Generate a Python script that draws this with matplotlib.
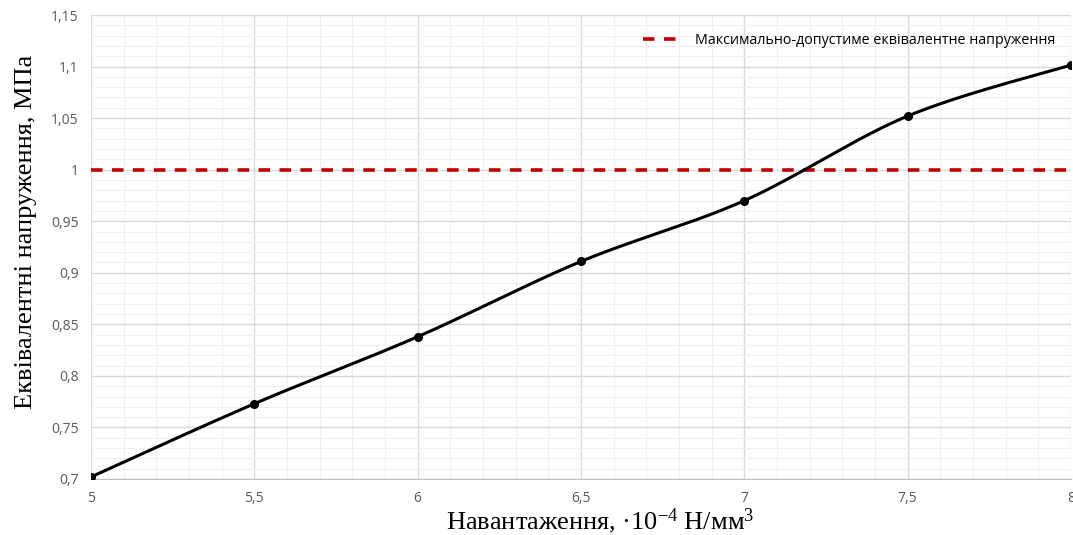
import numpy as np
import matplotlib
matplotlib.use('Agg')
from matplotlib import pyplot as plt
from matplotlib.ticker import MultipleLocator, FuncFormatter

plt.rcParams['mathtext.fontset'] = 'custom'
plt.rcParams['mathtext.rm'] = 'Liberation Serif'
plt.rcParams['mathtext.it'] = 'Liberation Serif:italic'

# data
load = [5, 5.5, 6, 6.5, 7, 7.5, 8]
stress = [0.702, 0.773, 0.838, 0.911, 0.970, 1.052, 1.1015]
limit = 1.0
limit_label = 'Максимально-допустиме еквівалентне напруження'


def smooth(xs, ys, n=40):
    # Catmull-Rom style bezier, like a spreadsheet "smoothed line"
    pts = np.column_stack([xs, ys]).astype(float)
    out = []
    for i in range(len(pts) - 1):
        p0 = pts[i - 1] if i > 0 else pts[i]
        p1 = pts[i]
        p2 = pts[i + 1]
        p3 = pts[i + 2] if i + 2 < len(pts) else pts[i + 1]
        c1 = p1 + (p2 - p0) / 6
        c2 = p2 - (p3 - p1) / 6
        t = np.linspace(0, 1, n)[:, None]
        seg = ((1 - t) ** 3) * p1 + 3 * ((1 - t) ** 2) * t * c1 + 3 * (1 - t) * t ** 2 * c2 + t ** 3 * p2
        out.append(seg if i == 0 else seg[1:])
    seg = np.vstack(out)
    return seg[:, 0], seg[:, 1]


fig = plt.figure(figsize=(10.73, 5.35), dpi=100)
ax = fig.add_axes([91 / 1073, 1 - 479 / 535, 980 / 1073, 464 / 535])

sx, sy = smooth(load, stress)
ax.plot(sx, sy, color='black', lw=2.2, zorder=3)
ax.plot(load, stress, 'o', color='black', ms=5.5, zorder=4)
ax.axhline(limit, color='#c00000', lw=2.6, ls=(0, (3.2, 2.6)), label=limit_label, zorder=2)

ax.set_xlim(5, 8)
ax.set_ylim(0.7, 1.15)
ax.xaxis.set_major_locator(MultipleLocator(0.5))
ax.xaxis.set_minor_locator(MultipleLocator(0.1))
ax.yaxis.set_major_locator(MultipleLocator(0.05))
ax.yaxis.set_minor_locator(MultipleLocator(0.01))
fmt = FuncFormatter(lambda v, p: ('%g' % round(v, 4)).replace('.', ','))
ax.xaxis.set_major_formatter(fmt)
ax.yaxis.set_major_formatter(fmt)

ax.grid(which='major', color='#d9d9d9', lw=1)
ax.grid(which='minor', color='#f0f0f0', lw=0.8)
ax.set_axisbelow(True)
for s in ax.spines.values():
    s.set_visible(False)
ax.spines['bottom'].set_visible(True)
ax.spines['bottom'].set_color('#bfbfbf')
ax.tick_params(which='both', length=0, labelsize=10, colors='#595959', pad=9)
for lab in ax.get_xticklabels() + ax.get_yticklabels():
    lab.set_family(['Open Sans', 'DejaVu Sans'])

ax.set_xlabel('Навантаження, ·10$^{-4}$ Н/мм$^{3}$', family=['Liberation Serif', 'DejaVu Serif'],
              fontsize=19)
ax.set_ylabel('Еквівалентні напруження, МПа', family=['Liberation Serif', 'DejaVu Serif'],
              fontsize=19)
ax.xaxis.set_label_coords(0.52, -0.058)
ax.yaxis.set_label_coords(-0.055, 0.532)

leg = ax.legend(loc='upper right', frameon=False, prop={'family': 'Open Sans', 'size': 10.3},
                handlelength=2.8, bbox_to_anchor=(0.997, 0.99))

fig.savefig('out.png', dpi=100)
